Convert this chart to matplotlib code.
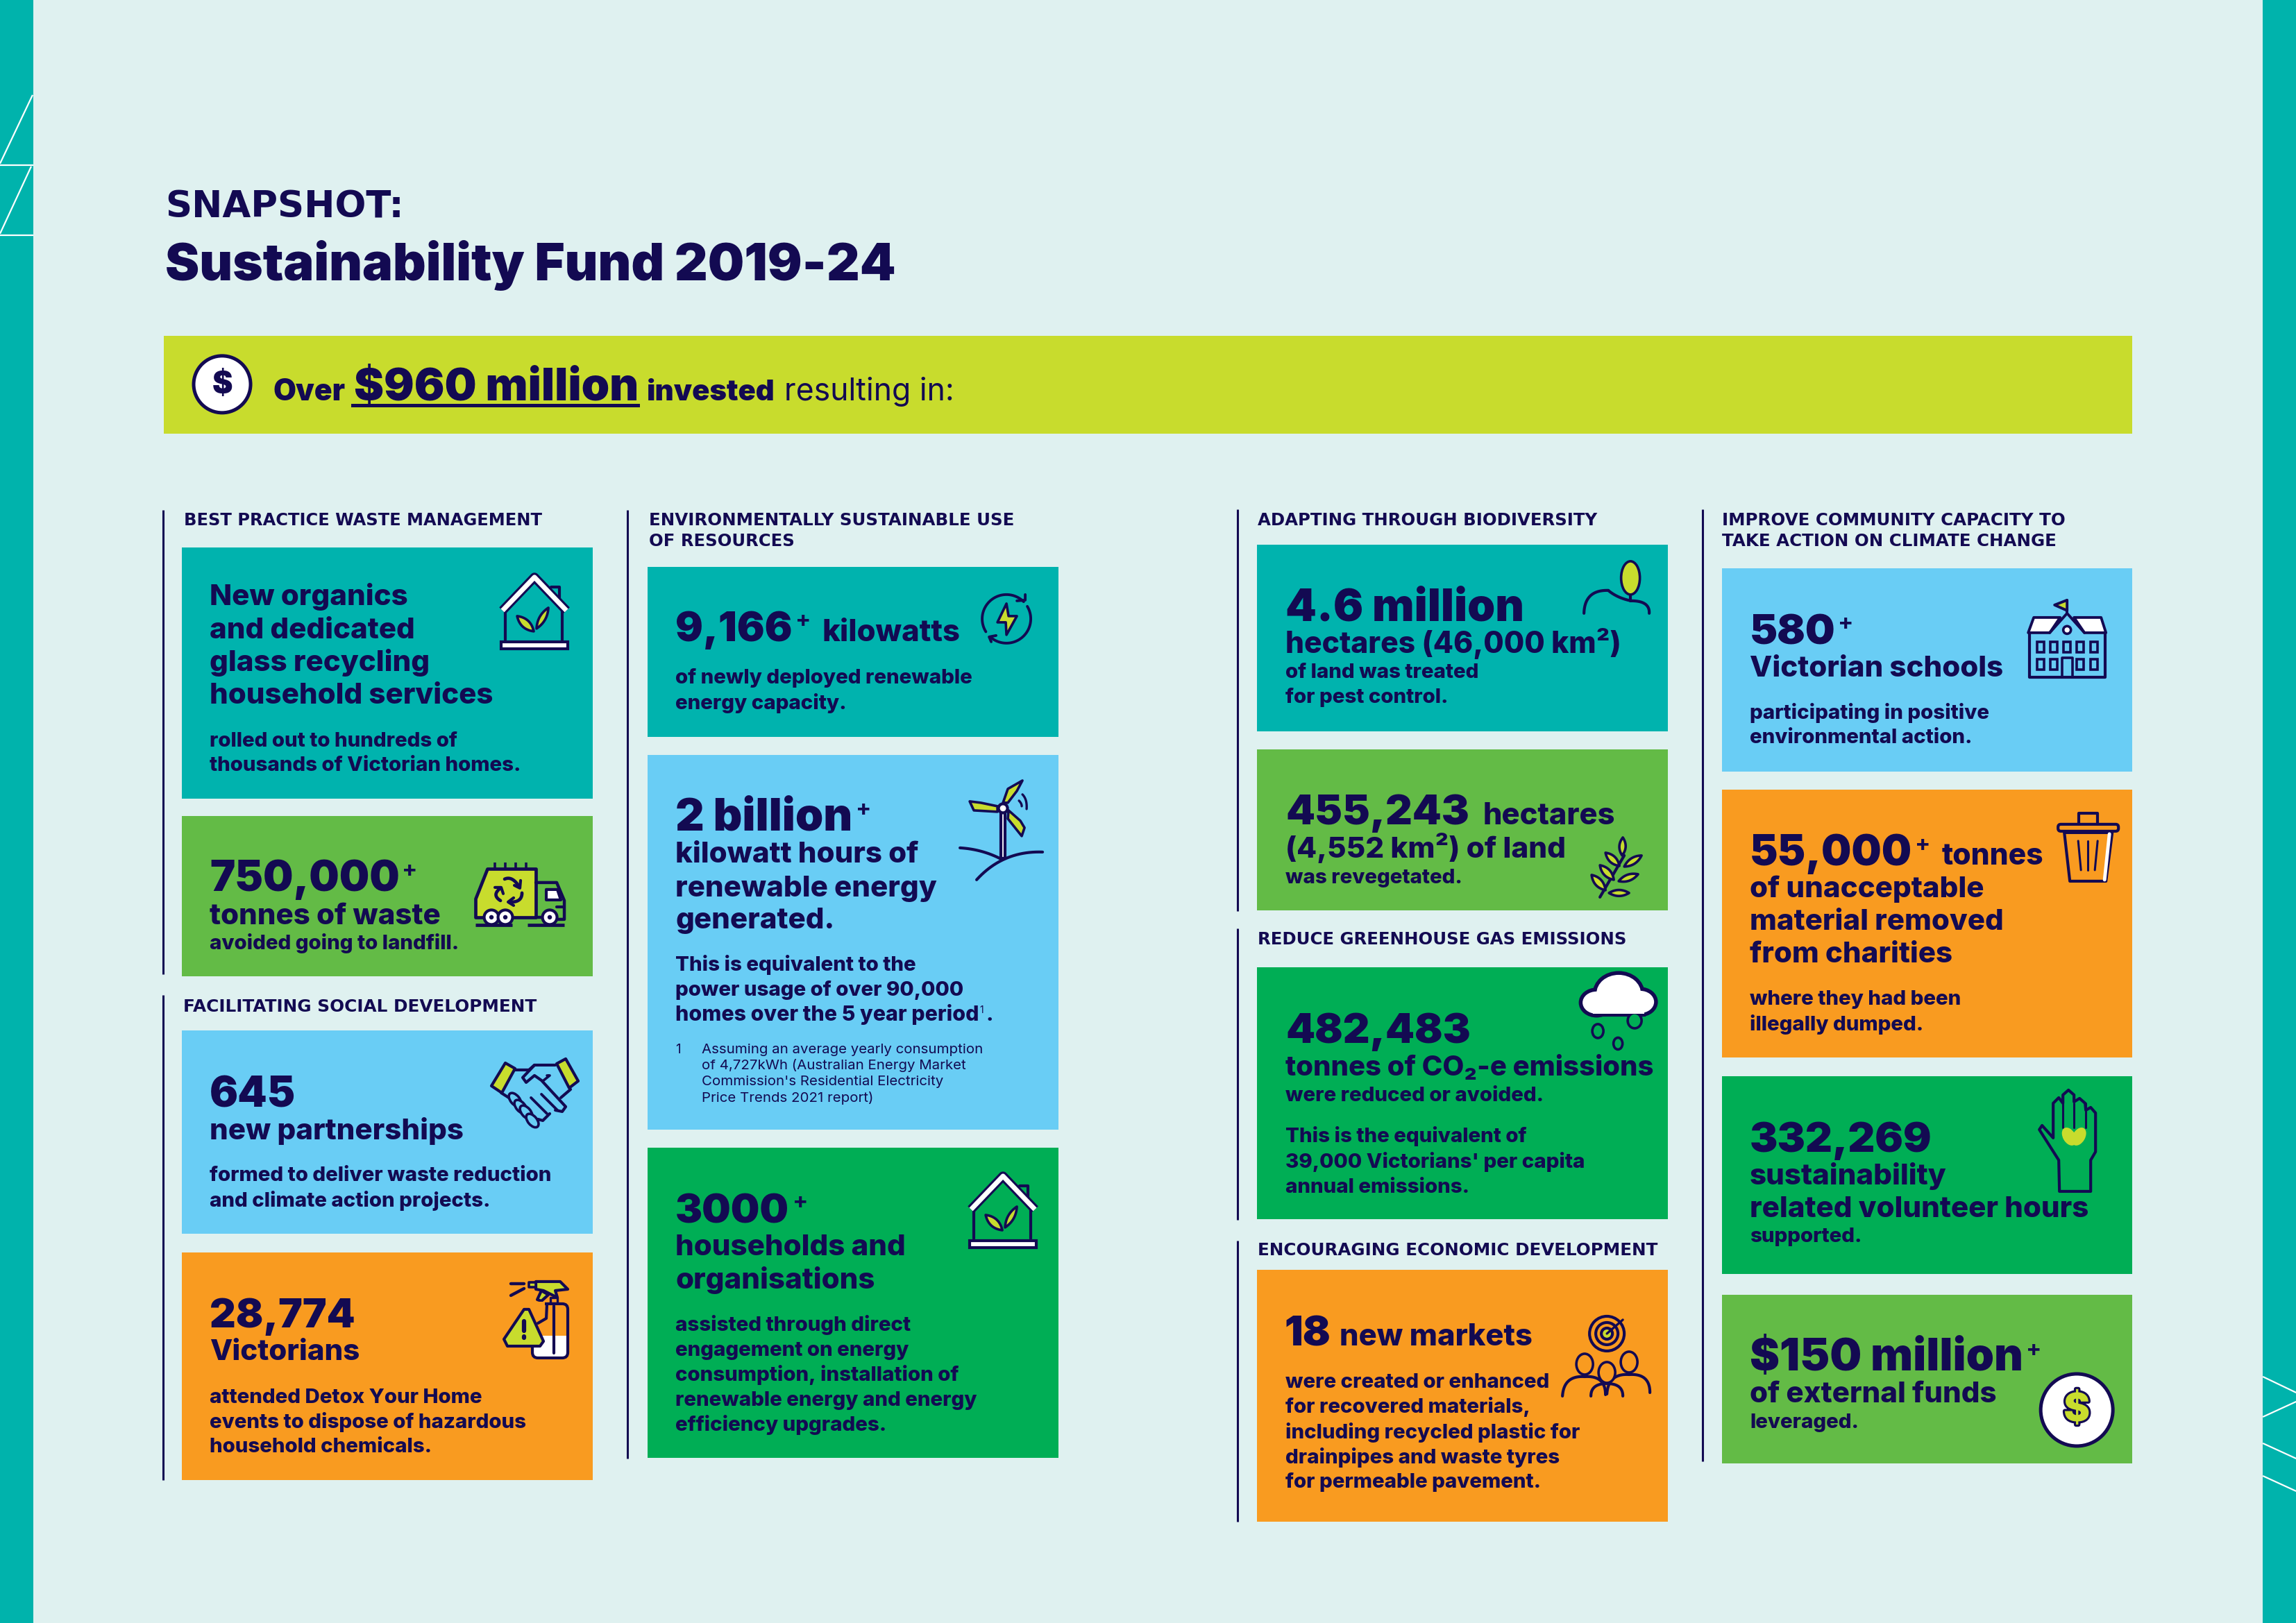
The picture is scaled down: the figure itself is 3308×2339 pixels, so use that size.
#!/usr/bin/env python3
"""Sustainability Fund snapshot page, drawn on a pixel-sized axes."""

import matplotlib

matplotlib.use("Agg")
import matplotlib.patheffects as pe
import matplotlib.pyplot as plt
import numpy as np
from matplotlib.patches import Circle, Ellipse, FancyBboxPatch, Polygon, Rectangle

W, H = 3308, 2339
DPI = 100

BG = "#DFF1F0"
BAND = "#00B3AC"
TEAL = "#00B3AE"
LIME = "#C8DC2D"
SKY = "#69CDF5"
ORANGE = "#F99B20"
LEAF = "#63BB46"
GREEN = "#00AE55"
NAVY = "#130A52"
WHITE = "#FFFFFF"

FONT = ["Inter", "DejaVu Sans"]
CAPS_FONT = ["DejaVu Sans"]

# text of the page
TITLE_TOP = "SNAPSHOT:"
TITLE_MAIN = "Sustainability Fund 2019-24"
BANNER = ["Over", "$960 million", "invested", "resulting in:"]

SECTIONS = [
    "BEST PRACTICE WASTE MANAGEMENT",
    "FACILITATING SOCIAL DEVELOPMENT",
    "ENVIRONMENTALLY SUSTAINABLE USE",
    "OF RESOURCES",
    "ADAPTING THROUGH BIODIVERSITY",
    "REDUCE GREENHOUSE GAS EMISSIONS",
    "ENCOURAGING ECONOMIC DEVELOPMENT",
    "IMPROVE COMMUNITY CAPACITY TO",
    "TAKE ACTION ON CLIMATE CHANGE",
]

ORGANICS_HEAD = ["New organics", "and dedicated", "glass recycling", "household services"]
ORGANICS_BODY = ["rolled out to hundreds of", "thousands of Victorian homes."]
WASTE_BODY = ["avoided going to landfill."]
PARTNER_BODY = ["formed to deliver waste reduction", "and climate action projects."]
DETOX_BODY = [
    "attended Detox Your Home",
    "events to dispose of hazardous",
    "household chemicals.",
]
KW_BODY = ["of newly deployed renewable", "energy capacity."]
KWH_HEAD = ["kilowatt hours of", "renewable energy", "generated."]
KWH_BODY = ["This is equivalent to the", "power usage of over 90,000", "homes over the 5 year period"]
KWH_NOTE = [
    "Assuming an average yearly consumption",
    "of 4,727kWh (Australian Energy Market",
    "Commission's Residential Electricity",
    "Price Trends 2021 report)",
]
HOUSE_HEAD = ["households and", "organisations"]
HOUSE_BODY = [
    "assisted through direct",
    "engagement on energy",
    "consumption, installation of",
    "renewable energy and energy",
    "efficiency upgrades.",
]
PEST_BODY = ["of land was treated", "for pest control."]
EMIT_BODY = ["This is the equivalent of", "39,000 Victorians' per capita", "annual emissions."]
MARKET_BODY = [
    "were created or enhanced",
    "for recovered materials,",
    "including recycled plastic for",
    "drainpipes and waste tyres",
    "for permeable pavement.",
]
SCHOOL_BODY = ["participating in positive", "environmental action."]
TONNE_HEAD = ["of unacceptable", "material removed", "from charities"]
TONNE_BODY = ["where they had been", "illegally dumped."]
VOLUNTEER_HEAD = ["sustainability", "related volunteer hours"]

STAT_PX = 62
HEAD_PX = 42
BODY_PX = 29.5
SEC_PX = 21
HEAVY = "heavy"

fig = plt.figure(figsize=((W + 0.2) / DPI, (H + 0.2) / DPI), dpi=DPI, facecolor=BG)
ax = fig.add_axes([0, 0, 1, 1])
ax.set_xlim(0, W)
ax.set_ylim(H, 0)
ax.axis("off")
renderer = fig.canvas.get_renderer()


def put(x, y, s, px, weight=HEAVY, w=None, family=None, color=NAVY):
    t = ax.text(x, y, s, fontsize=px * 72 / DPI, fontweight=weight, color=color,
                family=family or FONT, ha="left", va="baseline", zorder=5)
    if w is not None:
        t.set_fontsize(t.get_fontsize() * w / t.get_window_extent(renderer).width)
    return t


def stack(x, ys, lines, px, weight=HEAVY):
    for y, s in zip(ys, lines):
        put(x, y, s, px, weight)


def stat(x, y, s, w, plus_x=None):
    put(x, y, s, STAT_PX, "black", w=w)
    if plus_x is not None:
        put(plus_x, y - 20, "+", 33, "bold")


def card(x0, y0, x1, y1, color):
    ax.add_patch(Rectangle((x0, y0), x1 - x0, y1 - y0, fc=color, ec="none", zorder=1))


def rule(x, y0, y1):
    ax.plot([x, x], [y0, y1], color=NAVY, lw=2.2, solid_capstyle="butt", zorder=2)


def line(pts, color=NAVY, lw=3.0, z=6, cap="round"):
    xs, ys = zip(*pts)
    ax.plot(xs, ys, color=color, lw=lw, solid_capstyle=cap, solid_joinstyle="round", zorder=z)


def poly(pts, fc=LIME, lw=3.0, z=6):
    ax.add_patch(Polygon(pts, closed=True, fc=fc, ec=NAVY, lw=lw, joinstyle="round", zorder=z))


def circ(x, y, r, fc="none", lw=3.0, z=6, ec=NAVY):
    ax.add_patch(Circle((x, y), r, fc=fc, ec=ec, lw=lw, zorder=z))


def oval(x, y, a, b, angle=0, fc=LIME, lw=2.6, z=6):
    ax.add_patch(Ellipse((x, y), a, b, angle=angle, fc=fc, ec=NAVY, lw=lw, zorder=z))


def bez(p0, p1, p2):
    t = np.linspace(0, 1, 24)[:, None]
    return [tuple(q) for q in (1 - t) ** 2 * np.array(p0) + 2 * t * (1 - t) * np.array(p1) + t ** 2 * np.array(p2)]


def arc(cx, cy, r, t0, t1):
    a = np.radians(np.linspace(t0, t1, 40))
    return [(cx + r * np.cos(v), cy + r * np.sin(v)) for v in a]


def leaf(base, tip, bulge, fc=LIME, lw=2.6):
    base, tip = np.array(base, float), np.array(tip, float)
    d = tip - base
    n = np.array([-d[1], d[0]]) * bulge
    mid = (base + tip) / 2
    poly(bez(base, mid + n, tip) + bez(tip, mid - n, base), fc=fc, lw=lw)


def chevron(tip, a, b, lw=3.0):
    line([a, tip, b], lw=lw)


def house(x, y):
    line([(x - 42, y + 48), (x - 42, y + 92)])
    line([(x + 40, y + 48), (x + 40, y + 92)])
    line([(x + 24, y + 16), (x + 36, y + 16), (x + 36, y + 36)])
    line([(x - 46, y + 50), (x, y + 2), (x + 46, y + 50)], lw=9.5, cap="butt")
    line([(x - 46, y + 50), (x, y + 2), (x + 46, y + 50)], color=WHITE, lw=5, z=7, cap="butt")
    ax.add_patch(Rectangle((x - 48, y + 95), 96, 10, fc=WHITE, ec=NAVY, lw=3, zorder=6))
    leaf((x - 1, y + 80), (x - 25, y + 58), 0.35)
    leaf((x + 3, y + 76), (x + 20, y + 46), 0.25)


def coin(x, y, r, color):
    circ(x, y, r, fc=WHITE, lw=3.6)
    t = ax.text(x, y + 1, "$", fontsize=r * 0.78, fontweight="black", family=FONT,
                color=color, ha="center", va="center", zorder=7)
    if color != NAVY:
        t.set_path_effects([pe.withStroke(linewidth=4.5, foreground=NAVY)])


def truck():
    poly([(702, 1252), (772, 1252), (772, 1322), (685, 1322), (685, 1295)], lw=3.4)
    for x in (713, 728, 743, 758):
        line([(x, 1243), (x, 1252)], lw=2.6, cap="butt")
    line([(772, 1272), (802, 1272), (813, 1298), (813, 1325), (802, 1325)], lw=3.2)
    line([(772, 1322), (780, 1322)], lw=3.2)
    poly([(787, 1282), (803, 1282), (808, 1297), (787, 1297)], fc=WHITE, lw=3.0)
    line([(802, 1307), (813, 1307)], lw=3.0)
    line(bez((727, 1267), (738, 1262), (748, 1278)), lw=3.4)
    chevron((749, 1280), (741, 1276), (750, 1269))
    line(bez((752, 1287), (752, 1301), (734, 1300)), lw=3.4)
    chevron((732, 1300), (740, 1294), (740, 1305))
    line(bez((721, 1298), (708, 1290), (721, 1280)), lw=3.4)
    chevron((722, 1279), (713, 1279), (725, 1288))
    for x in (708, 728, 792):
        circ(x, 1322, 10.5, fc=WHITE, lw=3.0, z=7)
        circ(x, 1322, 3.2, fc=NAVY, lw=0, z=8)
    line([(685, 1333), (738, 1333)], lw=3.4, cap="butt")
    line([(760, 1333), (813, 1333)], lw=3.4, cap="butt")


def energy():
    line(arc(1450, 892, 35, 148, 315), lw=2.8)
    chevron((1477, 865), (1465, 866), (1477, 857), lw=2.8)
    line(arc(1450, 892, 35, 329, 488), lw=2.8)
    chevron((1425, 918), (1435, 916), (1428, 925), lw=2.8)
    poly([(1450, 870), (1437, 897), (1449, 897), (1450, 915), (1465, 888), (1453, 888)], lw=2.6)


def turbine():
    ax.add_patch(Rectangle((1442, 1170), 6, 67, fc=WHITE, ec=NAVY, lw=3, zorder=5))
    poly([(1445, 1157), (1452, 1137), (1473, 1125), (1465, 1140), (1452, 1157)], lw=2.6)
    poly([(1437, 1162), (1413, 1157), (1397, 1155), (1403, 1168), (1437, 1170)], lw=2.6)
    poly([(1453, 1168), (1470, 1183), (1476, 1193), (1472, 1205), (1452, 1180)], lw=2.6)
    circ(1445, 1165, 6.5, fc=WHITE, lw=3, z=7)
    line(bez((1383, 1222), (1415, 1224), (1442, 1238)), lw=3)
    line(bez((1502, 1228), (1445, 1226), (1407, 1268)), lw=3)
    line(bez((1468, 1154), (1472, 1158), (1472, 1162)), lw=2.4)
    line(bez((1473, 1145), (1480, 1152), (1479, 1166)), lw=2.4)


def handshake():
    poly([(728, 1532), (742, 1540), (723, 1575), (708, 1565)])
    poly([(815, 1526), (802, 1533), (820, 1568), (833, 1558)])
    line([(742, 1542), (762, 1542), (770, 1535), (800, 1535)])
    line([(770, 1535), (753, 1553), (758, 1560), (770, 1550), (780, 1557), (815, 1595), (810, 1602), (800, 1600)])
    line([(722, 1575), (733, 1582)])
    line([(822, 1570), (808, 1582)])
    line([(765, 1582), (788, 1605)], lw=2.8)
    line([(780, 1577), (803, 1600)], lw=2.8)
    line([(788, 1550), (792, 1550), (782, 1558)], lw=2.6)
    line([(792, 1605), (782, 1615), (775, 1613)])
    for x, y in [(742, 1585), (750, 1595), (758, 1603), (767, 1615)]:
        oval(x, y, 23, 13, 50, fc=SKY)


def spray():
    line([(736, 1850), (755, 1850)], lw=3.2)
    line([(736, 1867), (755, 1857)], lw=3.2)
    poly([(772, 1847), (807, 1847), (818, 1858), (800, 1860), (803, 1870), (783, 1860), (772, 1858)])
    poly([(762, 1848), (772, 1848), (772, 1855), (762, 1855)], lw=2.6)
    poly([(780, 1860), (774, 1873), (780, 1875), (790, 1866)])
    poly([(793, 1870), (803, 1870), (803, 1878), (793, 1878)], fc=ORANGE, lw=2.4)
    ax.add_patch(Rectangle((768, 1925), 48, 30, fc=WHITE, ec="none", zorder=5))
    ax.add_patch(FancyBboxPatch((767, 1879), 51, 78, boxstyle="round,pad=0,rounding_size=8",
                                fc="none", ec=NAVY, lw=3, zorder=6))
    ax.add_patch(Rectangle((765, 1876), 20, 40, fc=ORANGE, ec="none", zorder=6.5))
    line([(788, 1879), (787, 1900), (775, 1907)], lw=3, z=7)
    line([(798, 1882), (798, 1950)], lw=3, z=7)
    poly([(755, 1887), (726, 1930), (731, 1940), (778, 1940), (783, 1933), (762, 1887)], z=8)
    line([(755, 1904), (755, 1918)], lw=4.5, z=9)
    line([(755, 1926), (755, 1928)], lw=4.5, z=9)


def tree():
    line(bez((2282, 884), (2283, 850), (2317, 851)))
    line(bez((2317, 851), (2330, 862), (2350, 866)))
    line(bez((2350, 866), (2377, 866), (2376, 884)))
    line([(2349, 850), (2349, 866)])
    oval(2349, 833, 27, 48, 0)


def sprig():
    line([(2305, 1293), (2340, 1233)], lw=3)
    for base, tip, b in [((2337, 1233), (2338, 1207), 0.35), ((2333, 1248), (2313, 1229), 0.35),
                         ((2340, 1249), (2365, 1233), 0.3), ((2325, 1268), (2305, 1247), 0.35),
                         ((2332, 1270), (2360, 1260), 0.3), ((2313, 1283), (2293, 1261), 0.35),
                         ((2318, 1287), (2347, 1287), 0.3)]:
        leaf(base, tip, b)


def cloud():
    for x, y, a, b in [(2332, 1432, 70, 60), (2300, 1445, 46, 38), (2363, 1444, 46, 38)]:
        oval(x, y, a, b, fc=NAVY, lw=3.6, z=6)
    ax.add_patch(Rectangle((2295, 1440), 74, 23, fc=WHITE, ec=NAVY, lw=3, zorder=6))
    for x, y, a, b in [(2332, 1432, 70, 60), (2300, 1445, 46, 38), (2363, 1444, 46, 38)]:
        oval(x, y, a - 6, b - 6, fc=WHITE, lw=0, z=7)
    ax.add_patch(Rectangle((2295, 1442), 74, 19, fc=WHITE, ec="none", zorder=7))
    oval(2355, 1471, 20, 22, fc=GREEN)
    oval(2302, 1486, 16, 20, fc=GREEN)
    oval(2331, 1504, 13, 17, fc=GREEN)


def target():
    circ(2315, 1922, 25)
    circ(2315, 1922, 16)
    circ(2315, 1922, 8, fc=LIME)
    line([(2315, 1922), (2338, 1902)], lw=2.4)


def people():
    for x, y in [(2283, 1966), (2347, 1963)]:
        oval(x, y, 24, 30, fc="none")
        line(bez((x - 32, y + 46), (x - 30, y + 16), (x, y + 18)), lw=3)
        line(bez((x, y + 18), (x + 30, y + 16), (x + 30, y + 44)), lw=3)
    oval(2315, 1978, 24, 30, fc=ORANGE, z=7)
    line(bez((2292, 2012), (2292, 1994), (2315, 1994)), lw=3, z=8)
    line(bez((2315, 1994), (2338, 1994), (2338, 2012)), lw=3, z=8)


def school():
    line([(2978, 865), (2978, 883)], lw=2.8)
    poly([(2978, 865), (2960, 872), (2978, 880)], lw=2.8)
    poly([(2930, 890), (2968, 890), (2953, 912), (2922, 912)], fc=WHITE, lw=2.8)
    poly([(2988, 890), (3027, 890), (3034, 912), (3003, 912)], fc=WHITE, lw=2.8)
    line([(2953, 912), (2978, 884), (3003, 912)], lw=2.8)
    line([(2924, 912), (2924, 976), (3033, 976), (3033, 912)], lw=3)
    circ(2978, 908, 5.5, fc=WHITE, lw=2.6)
    for x in (2940, 2959, 2978, 2997, 3017):
        ax.add_patch(Rectangle((x - 5, 925), 10, 15, fc="none", ec=NAVY, lw=2.6, zorder=6))
    for x in (2940, 2959, 2997, 3017):
        ax.add_patch(Rectangle((x - 5, 950), 10, 15, fc="none", ec=NAVY, lw=2.6, zorder=6))
    line([(2971, 976), (2971, 948), (2986, 948), (2986, 976)], lw=2.6)


def rubbish_bin():
    ax.add_patch(FancyBboxPatch((2965, 1188), 87, 10, boxstyle="round,pad=0,rounding_size=4",
                                fc=ORANGE, ec=NAVY, lw=3, zorder=6))
    line([(2995, 1188), (2995, 1172), (3022, 1172), (3022, 1188)])
    poly([(2974, 1200), (3043, 1200), (3034, 1270), (2982, 1270)], fc=ORANGE)
    line([(3039, 1202), (3032, 1268)], color=WHITE, lw=3.5, z=7)
    for a, b in [((2994, 1212), (2998, 1254)), ((3008, 1212), (3008, 1254)), ((3022, 1212), (3018, 1254))]:
        line([a, b], lw=2.2)


def hand():
    pts = [(2967, 1717), (2966, 1672), (2938, 1628), (2942, 1622), (2958, 1640),
           (2958, 1590), (2966, 1582), (2972, 1590), (2972, 1578), (2980, 1571), (2988, 1578),
           (2988, 1588), (2996, 1583), (3004, 1590), (3005, 1600), (3012, 1596), (3019, 1604),
           (3019, 1660), (3012, 1672), (3012, 1717)]
    poly(pts, fc=GREEN)
    for x in (2972, 2988, 3005):
        line([(x, 1590), (x, 1625)], lw=2.2)
    oval(2981, 1638, 18, 28, -30, lw=0, z=7)
    oval(2995, 1638, 18, 28, 30, lw=0, z=7)


# page frame
ax.add_patch(Rectangle((0, 0), 48, H, fc=BAND, ec="none"))
ax.add_patch(Rectangle((3260, 0), 48, H, fc=BAND, ec="none"))
for a, b in [((0, 236), (47, 137)), ((0, 238), (48, 238)), ((0, 337), (45, 240)), ((0, 339), (48, 339)),
             ((3260, 1984), (3308, 2007)), ((3260, 2042), (3308, 2020)),
             ((3260, 2080), (3308, 2102)), ((3260, 2127), (3308, 2149))]:
    line([a, b], color=WHITE, lw=1.6, cap="butt")

put(238, 313, TITLE_TOP, 50, "bold", w=344, family=CAPS_FONT)
put(238, 404, TITLE_MAIN, 72, "black", w=1055)

ax.add_patch(Rectangle((236, 484), 2836, 141, fc=LIME, ec="none", zorder=1))
coin(320, 554, 41, NAVY)
put(393, 577, BANNER[0], 40, "black", w=104)
put(510, 577, BANNER[1], 68, "black", w=410)
ax.add_patch(Rectangle((506, 582), 416, 5, fc=NAVY, ec="none", zorder=5))
put(932, 577, BANNER[2], 40, "black", w=185)
put(1130, 577, BANNER[3], 40, "normal", w=245)

# section headings and their rules
rule(235, 735, 1404)
rule(235, 1434, 2133)
rule(904, 735, 2102)
rule(1783, 734, 1313)
rule(1783, 1338, 1758)
rule(1783, 1788, 2193)
rule(2453, 734, 2106)
heads = [(265, 757, 516), (264, 1458, 509), (935, 757, 525), (935, 787, 208), (1812, 757, 487),
         (1812, 1361, 530), (1812, 1809, 575), (2481, 757, 493), (2481, 787, 480)]
for (x, y, w), s in zip(heads, SECTIONS):
    put(x, y, s, SEC_PX, "bold", w=w, family=CAPS_FONT)

# column 1
card(262, 789, 854, 1151, TEAL)
stack(302, [872, 920, 967, 1014], ORGANICS_HEAD, HEAD_PX)
stack(302, [1076, 1111], ORGANICS_BODY, BODY_PX)
house(770, 830)

card(262, 1176, 854, 1407, LEAF)
stat(302, 1284, "750,000", 274, plus_x=579)
put(302, 1332, "tonnes of waste", HEAD_PX)
stack(302, [1368], WASTE_BODY, BODY_PX)
truck()

card(262, 1485, 854, 1778, SKY)
stat(302, 1595, "645", 124)
put(302, 1642, "new partnerships", HEAD_PX)
stack(302, [1702, 1739], PARTNER_BODY, BODY_PX)
handshake()

card(262, 1805, 854, 2133, ORANGE)
stat(302, 1913, "28,774", 210)
put(302, 1960, "Victorians", HEAD_PX)
stack(302, [2022, 2058, 2093], DETOX_BODY, BODY_PX)
spray()

# column 2
card(933, 817, 1525, 1062, TEAL)
stat(973, 924, "9,166", 169, plus_x=1146)
put(1184, 924, "kilowatts", HEAD_PX, w=199)
stack(973, [985, 1022], KW_BODY, BODY_PX)
energy()

card(933, 1088, 1525, 1628, SKY)
stat(973, 1196, "2 billion", 255, plus_x=1233)
stack(973, [1243, 1292, 1338], KWH_HEAD, HEAD_PX)
stack(973, [1399, 1435], KWH_BODY[:2], BODY_PX)
put(973, 1471, KWH_BODY[2], BODY_PX, w=435)
put(1411, 1460, "1", 14, "normal")
put(1420, 1471, ".", BODY_PX)
put(973, 1518, "1", 19, "normal")
stack(1011, [1518, 1541, 1564, 1588], KWH_NOTE, 20.5, "normal")
turbine()

card(933, 1654, 1525, 2101, GREEN)
stat(973, 1762, "3000", 164, plus_x=1142)
stack(973, [1809, 1857], HOUSE_HEAD, HEAD_PX)
stack(973, [1918, 1954, 1990, 2026, 2062], HOUSE_BODY, BODY_PX)
house(1445, 1693)

# column 3
card(1811, 785, 2403, 1054, TEAL)
stat(1852, 894, "4.6 million", 343)
put(1852, 941, "hectares (46,000 km²)", HEAD_PX, w=484)
stack(1852, [977, 1013], PEST_BODY, BODY_PX)
tree()

card(1811, 1080, 2403, 1312, LEAF)
stat(1852, 1188, "455,243", 265)
put(2136, 1188, "hectares", HEAD_PX, w=191)
put(1852, 1236, "(4,552 km²) of land", HEAD_PX, w=404)
put(1852, 1273, "was revegetated.", BODY_PX)
sprig()

card(1811, 1394, 2403, 1757, GREEN)
stat(1852, 1503, "482,483", 267)
put(1852, 1550, "tonnes of CO₂-e emissions", HEAD_PX, w=531)
put(1852, 1587, "were reduced or avoided.", BODY_PX)
stack(1852, [1646, 1683, 1719], EMIT_BODY, BODY_PX)
cloud()

card(1811, 1830, 2403, 2193, ORANGE)
stat(1850, 1939, "18", 67)
put(1930, 1939, "new markets", HEAD_PX, w=278)
stack(1852, [2000, 2036, 2073, 2109, 2144], MARKET_BODY, BODY_PX)
target()
people()

# column 4
card(2481, 819, 3072, 1112, SKY)
stat(2521, 928, "580", 124, plus_x=2648)
put(2521, 975, "Victorian schools", HEAD_PX)
stack(2521, [1036, 1071], SCHOOL_BODY, BODY_PX)
school()

card(2481, 1138, 3072, 1524, ORANGE)
stat(2521, 1247, "55,000", 234, plus_x=2759)
put(2797, 1246, "tonnes", HEAD_PX, w=147)
stack(2521, [1293, 1340, 1387], TONNE_HEAD, HEAD_PX)
stack(2521, [1448, 1485], TONNE_BODY, BODY_PX)
rubbish_bin()

card(2481, 1551, 3072, 1836, GREEN)
stat(2521, 1660, "332,269", 263)
stack(2521, [1707, 1754], VOLUNTEER_HEAD, HEAD_PX)
put(2521, 1790, "supported.", BODY_PX)
hand()

card(2481, 1866, 3072, 2109, LEAF)
stat(2521, 1975, "$150 million", 394, plus_x=2919)
put(2521, 2021, "of external funds", HEAD_PX)
put(2521, 2058, "leveraged.", BODY_PX)
coin(2992, 2032, 52, LIME)

fig.savefig("out.png", dpi=DPI, facecolor=BG)
